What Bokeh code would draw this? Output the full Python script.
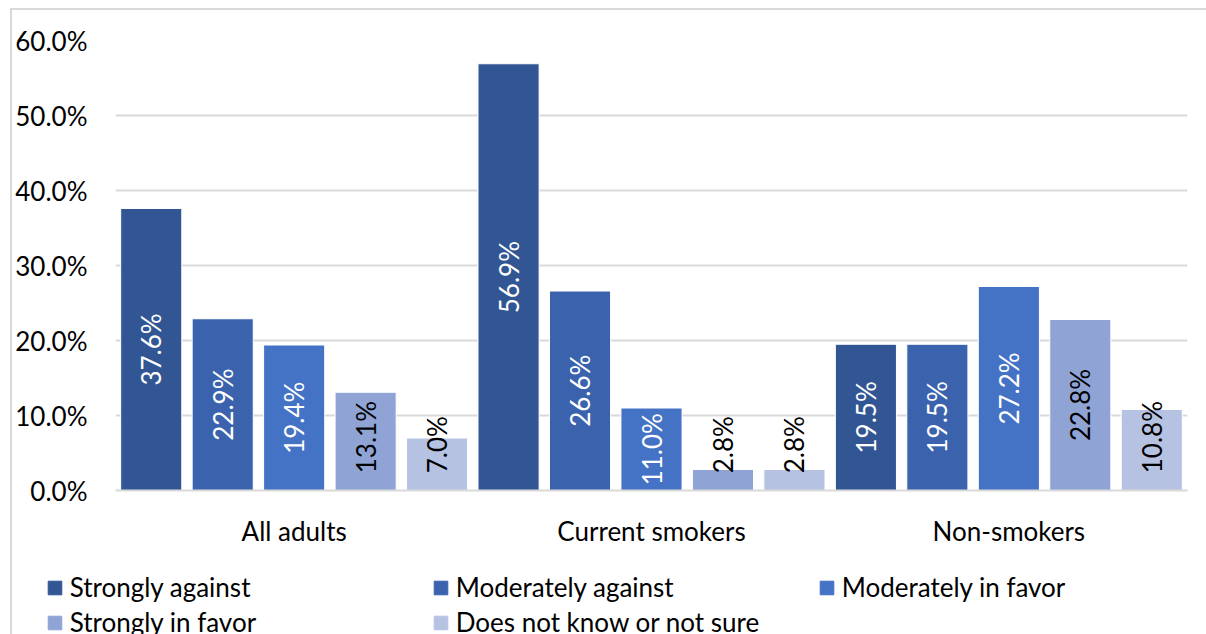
from bokeh.plotting import figure
from bokeh.layouts import column
from bokeh.models import FixedTicker, PrintfTickFormatter, Legend, LegendItem
from bokeh.core.properties import value
from bokeh.embed import file_html
from bokeh.resources import INLINE
import math

# Survey results (percent of respondents)
groups = ["All adults", "Current smokers", "Non-smokers"]
responses = ["Strongly against", "Moderately against", "Moderately in favor",
             "Strongly in favor", "Does not know or not sure"]
strongly_against = [37.6, 56.9, 19.5]
moderately_against = [22.9, 26.6, 19.5]
moderately_in_favor = [19.4, 11.0, 27.2]
strongly_in_favor = [13.1, 2.8, 22.8]
not_sure = [7.0, 2.8, 10.8]
y_ticks = [0, 10, 20, 30, 40, 50, 60]

series = [strongly_against, moderately_against, moderately_in_favor,
          strongly_in_favor, not_sure]
colors = ["#325694", "#3B63AD", "#4472C4", "#8FA4D5", "#B6C2E2"]
label_colors = ["white", "white", "white", "black", "black"]

FONT = "Lato"
FS = "26px"
STEP = 0.2
BAR_W = 0.171
GRID = "#d9d9d9"

p = figure(frame_width=1072, frame_height=450,
           x_range=(0, len(groups)), y_range=(0, 60),
           output_backend="svg", toolbar_location=None,
           min_border_left=96, min_border_top=30, min_border_right=26,
           min_border_bottom=60)
p.outline_line_color = None
p.background_fill_color = "white"
p.border_fill_color = "white"

# legend strip underneath the chart, three entries per row
lg = figure(frame_width=1156, frame_height=91, output_backend="svg",
            toolbar_location=None, x_range=(0, len(groups)), y_range=(0, 60),
            min_border_left=38, min_border_top=0, min_border_right=0,
            min_border_bottom=0)
lg.axis.visible = False
lg.grid.grid_line_color = None
lg.outline_line_color = None
lg.border_fill_color = "white"

items = []
for i, (name, vals) in enumerate(zip(responses, series)):
    xs = [g + 0.5 + (i - 2) * STEP for g in range(len(groups))]
    p.vbar(x=xs, top=vals, width=BAR_W, bottom=0,
           fill_color=colors[i], line_color="white", line_width=1)

    # hidden twin series that only supplies the legend swatch
    r = lg.vbar(x=xs, top=vals, width=BAR_W, bottom=0, visible=False,
                fill_color=colors[i], line_color=colors[i])
    items.append(LegendItem(label=name, renderers=[r]))

    # rotated value labels: centred in the bar, except that short bars of the
    # pale series start their label a little above the axis
    cx, cy, ct, bx, bt = [], [], [], [], []
    for x, v in zip(xs, vals):
        txt = f"{v:.1f}%"
        if i >= 3 and v < 15:
            bx.append(x)
            bt.append(txt)
        else:
            cx.append(x)
            cy.append(v / 2)
            ct.append(txt)
    if cx:
        p.text(x=cx, y=cy, text=ct, angle=math.pi / 2,
               text_align="center", text_baseline="middle",
               text_font=value(FONT), text_font_size=FS,
               text_color=label_colors[i])
    if bx:
        p.text(x=bx, y=[2.3] * len(bx), text=bt, angle=math.pi / 2,
               text_align="left", text_baseline="middle",
               text_font=value(FONT), text_font_size=FS,
               text_color=label_colors[i])

# axes
p.xaxis.ticker = FixedTicker(ticks=[g + 0.5 for g in range(len(groups))])
p.xaxis.major_label_overrides = {g + 0.5: name for g, name in enumerate(groups)}
p.xaxis.axis_line_color = GRID
p.xaxis.axis_line_width = 2
p.xaxis.major_tick_line_color = None
p.xaxis.minor_tick_line_color = None
p.xaxis.major_label_text_font = FONT
p.xaxis.major_label_text_font_size = FS
p.xaxis.major_label_text_color = "black"
p.xaxis.major_label_standoff = 18

p.yaxis.ticker = FixedTicker(ticks=y_ticks)
p.yaxis.formatter = PrintfTickFormatter(format="%.1f%%")
p.yaxis.axis_line_color = None
p.yaxis.major_tick_line_color = None
p.yaxis.minor_tick_line_color = None
p.yaxis.major_label_text_font = FONT
p.yaxis.major_label_text_font_size = FS
p.yaxis.major_label_text_color = "black"
p.yaxis.major_label_standoff = 22

p.xgrid.grid_line_color = None
p.ygrid.grid_line_color = GRID
p.ygrid.grid_line_width = 2

legend = Legend(items=items, ncols=3, orientation="horizontal",
                location="top_left",
                label_text_font=FONT, label_text_font_size=FS,
                label_text_color="black",
                glyph_width=17, glyph_height=17, label_standoff=7,
                label_width=359, label_height=29, spacing=3,
                padding=0, margin=21,
                inactive_fill_alpha=0,
                border_line_color=None, background_fill_alpha=0)
lg.add_layout(legend, "center")

page = column(p, lg, spacing=0,
              styles={"margin-left": "10px", "margin-top": "8px",
                      "border-left": f"2px solid {GRID}",
                      "border-top": f"2px solid {GRID}"})

open("out.html", "w").write(file_html(page, INLINE))
